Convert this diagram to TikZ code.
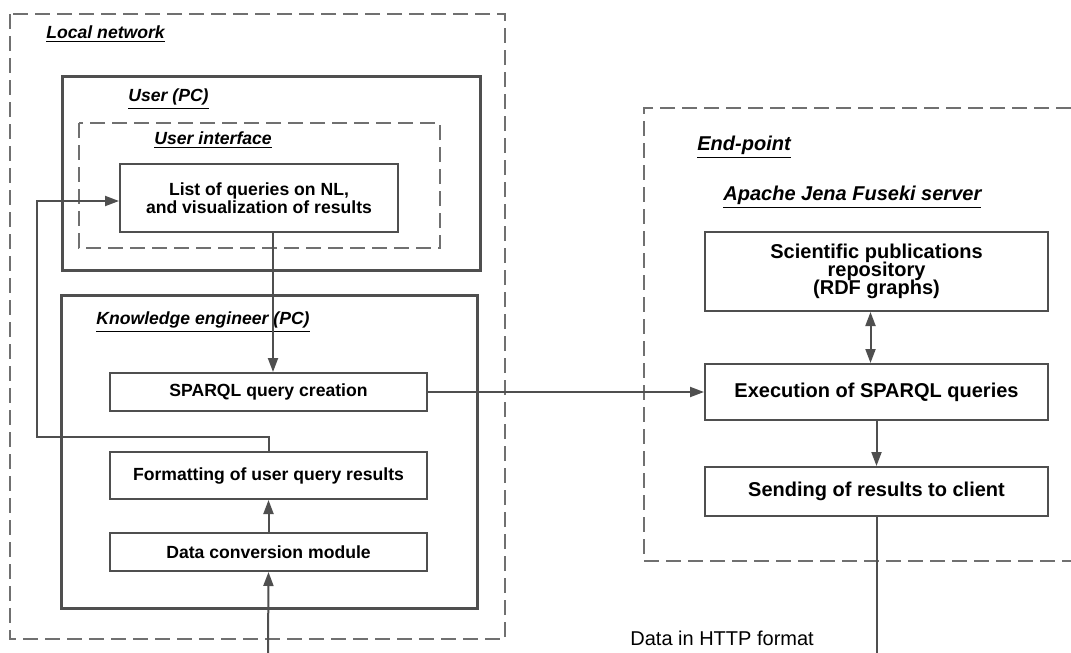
\documentclass[tikz,border=0pt]{standalone}
\usepackage{fontspec}
\setmainfont{Liberation Sans}
\usetikzlibrary{arrows.meta}

\definecolor{linec}{HTML}{4F4F4F}
\definecolor{dashc}{HTML}{707070}
\setlength{\lineskiplimit}{-5pt}

\tikzset{
  box/.style={draw=linec,line width=1pt,fill=white,align=center,inner sep=0pt,
    font=\bfseries\fontsize{8.8}{9}\selectfont},
  rbox/.style={box,font=\bfseries\fontsize{10}{9}\selectfont},
  conn/.style={draw=linec,line width=1pt,-{Triangle[length=7pt,width=5pt]}},
  frame/.style={draw=linec,line width=1.5pt},
  zone/.style={draw=dashc,line width=0.6pt,dash pattern=on 7.5pt off 3.5pt},
  lbl/.style={anchor=west,inner sep=0pt,font=\bfseries\itshape\fontsize{8.8}{9}\selectfont},
  rlbl/.style={lbl,font=\bfseries\itshape\fontsize{10}{10}\selectfont},
}

\begin{document}
\begin{tikzpicture}[x=0.5pt,y=-0.5pt]
\useasboundingbox (0,0) rectangle (1071,653);

% containers
\draw[zone] (10,14) rectangle (505,639); %local network
\draw[frame] (62,76) rectangle (480,270); %user pc
\draw[zone] (79,123) rectangle (440,248); %user interface
\draw[frame] (61,295) rectangle (477,608); %knowledge engineer
\draw[zone] (1071,108) -- (644,108) -- (644,561) -- (1071,561); %end-point

\node[lbl] (tlocal) at (46,34) {\underline{Local network}};
\node[lbl] (tuser) at (128,99) {\underline{User (PC)}};
\node[lbl] (tui) at (154,140) {\underline{User interface}};
\node[lbl] (tke) at (96,322) {\underline{Knowledge engineer (PC)}};
\node[rlbl] (tend) at (697,147) {\underline{End-point}};
\node[rlbl] (tjena) at (723,197) {\underline{Apache Jena Fuseki server}};

% blocks
\node[box,minimum width=139pt,minimum height=34pt] (list) at (259,198)
  {List of queries on NL,\\and visualization of results};
\node[box,minimum width=158.5pt,minimum height=19pt] (create) at (268.5,392) {SPARQL query creation};
\node[box,minimum width=158.5pt,minimum height=23.5pt] (fmt) at (268.5,475.5) {Formatting of user query results};
\node[box,minimum width=158.5pt,minimum height=19pt] (conv) at (268.5,552) {Data conversion module};

\node[rbox,minimum width=171.5pt,minimum height=39.5pt] (repo) at (876.5,271.5)
  {Scientific publications\\repository\\(RDF graphs)};
\node[rbox,minimum width=171.5pt,minimum height=28pt] (exec) at (876.5,392) {Execution of SPARQL queries};
\node[rbox,minimum width=171.5pt,minimum height=24.5pt] (send) at (876.5,491.5) {Sending of results to client};

\node[anchor=west,inner sep=0pt,font=\fontsize{10}{10}\selectfont] (http) at (630,638) {Data in HTTP format};

% connectors
\coordinate (back) at (37,437);
\coordinate (datain) at (268,653);
\coordinate (dataout) at (876.5,653);

\draw[conn] ([xshift=2.25pt]create.north |- list.south) -- ([xshift=2.25pt]create.north);
\draw[conn] (create.east) -- (exec.west);
\draw[conn] (fmt.north) |- (back) |- ([yshift=-1.5pt]list.west);
\draw[conn] (conv.north) -- (fmt.south);
\draw[conn] (datain) -- (conv.south);
\draw[conn,{Triangle[length=7pt,width=5pt]}-{Triangle[length=7pt,width=5pt]}] ([xshift=-3pt]repo.south) -- ([xshift=-3pt]exec.north);
\draw[conn] (exec.south) -- (send.north);
\draw[draw=linec,line width=1pt] (send.south) -- (dataout);

\end{tikzpicture}
\end{document}
